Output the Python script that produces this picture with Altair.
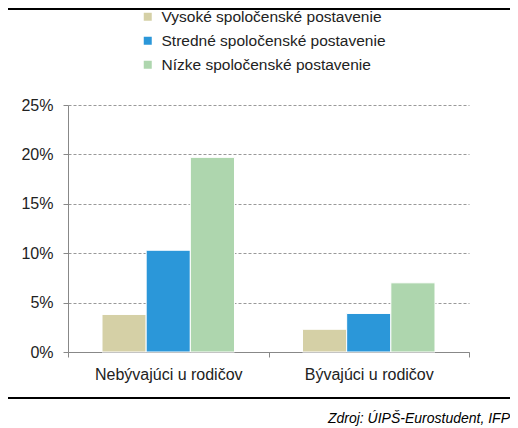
import altair as alt
import pandas as pd

categories = ["Nebývajúci u rodičov", "Bývajúci u rodičov"]
series = ["Vysoké spoločenské postavenie", "Stredné spoločenské postavenie", "Nízke spoločenské postavenie"]
vysoke = [3.8, 2.3]
stredne = [10.3, 3.9]
nizke = [19.7, 7.0]
colors = ["#D5D0A6", "#2B97D9", "#AED6AE"]
y_ticks = [0, 5, 10, 15, 20, 25]
source_text = "Zdroj: ÚIPŠ-Eurostudent, IFP"

rows = []
for s, vals in zip(series, [vysoke, stredne, nizke]):
    for c, v in zip(categories, vals):
        rows.append({"kat": c, "skupina": s, "hodnota": v})
df = pd.DataFrame(rows)

FONT = "Liberation Sans"

bars = alt.Chart(df).mark_bar(stroke="white", strokeWidth=1).encode(
    x=alt.X(
        "kat:N", sort=categories, title=None,
        scale=alt.Scale(paddingInner=0, paddingOuter=0),
        axis=alt.Axis(labelAngle=0, tickBand="extent", domainColor="#888", tickColor="#888",
                      labelFontSize=16, labelPadding=9, tickSize=5, labelColor="#222",
                      labelFont=FONT, grid=False),
    ),
    xOffset=alt.XOffset("skupina:N", sort=series,
                        scale=alt.Scale(paddingOuter=0.77, paddingInner=0)),
    y=alt.Y(
        "hodnota:Q", title=None, scale=alt.Scale(domain=[0, 25], nice=False),
        axis=alt.Axis(values=y_ticks, labelExpr="datum.value + '%'", domainColor="#888",
                      tickColor="#888", tickSize=5, labelPadding=10, labelFontSize=16,
                      labelColor="#222", labelFont=FONT, grid=True, gridColor="#999",
                      gridDash=[3, 2], gridWidth=1),
    ),
    color=alt.Color(
        "skupina:N", sort=series, scale=alt.Scale(domain=series, range=colors),
        legend=alt.Legend(orient="none", legendX=72, legendY=-96, title=None,
                          symbolType="square", symbolSize=64, symbolStrokeWidth=0,
                          labelFontSize=15.5, labelFont=FONT, labelColor="#222",
                          labelLimit=0, rowPadding=7, labelOffset=6),
    ),
)

one = pd.DataFrame({"a": [0]})
bottom_rule = alt.Chart(one).mark_rule(color="black", strokeWidth=2).encode(
    x=alt.value(-60), x2=alt.value(442), y=alt.value(293)
)
top_rule = alt.Chart(one).mark_rule(color="black", strokeWidth=2).encode(
    x=alt.value(-60), x2=alt.value(442), y=alt.value(-96)
)
source = alt.Chart(one).mark_text(align="right", fontStyle="italic", fontSize=14,
                                  font=FONT, color="black").encode(
    x=alt.value(442), y=alt.value(314), text=alt.value(source_text)
)

chart = alt.layer(bars, bottom_rule, top_rule, source).properties(
    width=401, height=247,
    autosize=alt.AutoSizeParams(type="none"),
    padding={"left": 60, "top": 97, "right": 41, "bottom": 78},
).configure_view(stroke=None)

chart.save("out.html", embed_options={"renderer": "svg", "actions": False})
